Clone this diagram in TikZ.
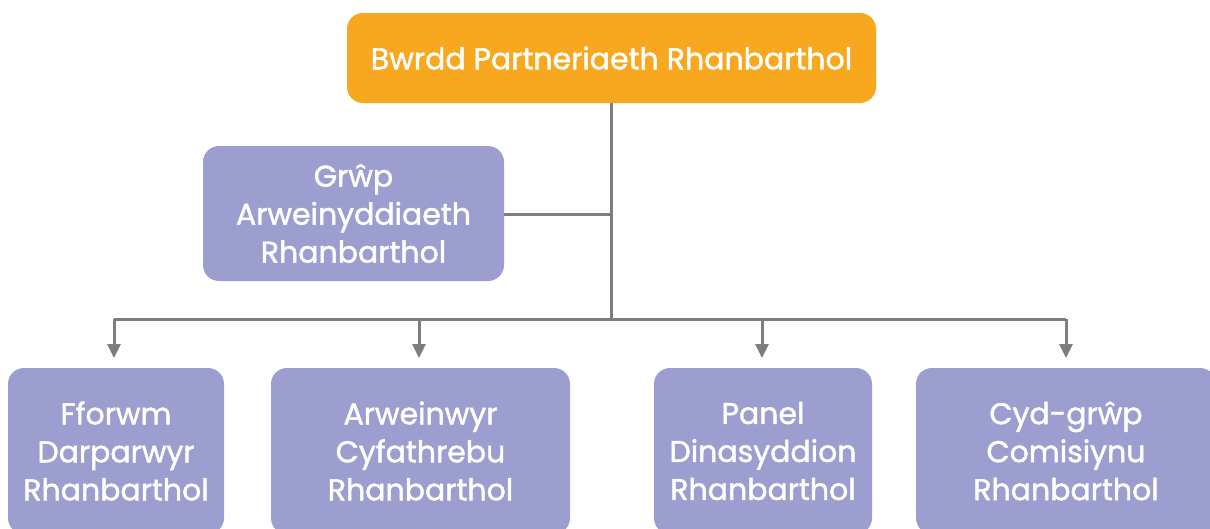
\documentclass[tikz,border=0pt]{standalone}
\usepackage{fontspec}
\setmainfont{Poppins}[FakeBold=1.5]
\usetikzlibrary{arrows.meta}
\definecolor{orangebox}{HTML}{F7A81F}
\definecolor{purplebox}{HTML}{9B9ECE}
\definecolor{linegray}{HTML}{7E7E80}
\tikzset{
  box/.style={rounded corners=16pt, inner sep=0pt, text=white, align=center,
    font=\fontsize{30}{38}\selectfont},
  topbox/.style={box, fill=orangebox},
  purplebox/.style={box, fill=purplebox},
  conn/.style={draw=linegray, line width=3pt},
  arr/.style={conn, -{Triangle[width=13pt,length=14pt]}}
}
\begin{document}
\begin{tikzpicture}[x=1pt,y=-1pt]
\useasboundingbox (0,0) rectangle (1210,528);
\clip (0,0) rectangle (1210,528);
\node[topbox, minimum width=529pt, minimum height=90pt] (top) at (611.5,58) {Bwrdd Partneriaeth Rhanbarthol};
\node[purplebox, minimum width=301pt, minimum height=135pt] (grp) at (353.5,213.5) {Grŵp\\Arweinyddiaeth\\Rhanbarthol};
\node[purplebox, minimum width=216pt, minimum height=166pt] (b1) at (116,451) {Fforwm\\Darparwyr\\Rhanbarthol};
\node[purplebox, minimum width=299pt, minimum height=166pt] (b2) at (420.5,451) {Arweinwyr\\Cyfathrebu\\Rhanbarthol};
\node[purplebox, minimum width=218pt, minimum height=166pt] (b3) at (763,451) {Panel\\Dinasyddion\\Rhanbarthol};
\node[purplebox, minimum width=300pt, minimum height=166pt] (b4) at (1066,451) {Cyd-grŵp\\Comisiynu\\Rhanbarthol};
\coordinate (j) at (611,319);
\coordinate (g) at (611,214);
\draw[conn] (top.south -| j) -- (j);
\draw[conn] (grp.east |- g) -- (g);
\draw[conn] (114,319) -- (1066,319);
\draw[arr] (114,319) -- (114,358);
\draw[arr] (419,319) -- (419,358);
\draw[arr] (762,319) -- (762,358);
\draw[arr] (1066,319) -- (1066,358);
\end{tikzpicture}
\end{document}
